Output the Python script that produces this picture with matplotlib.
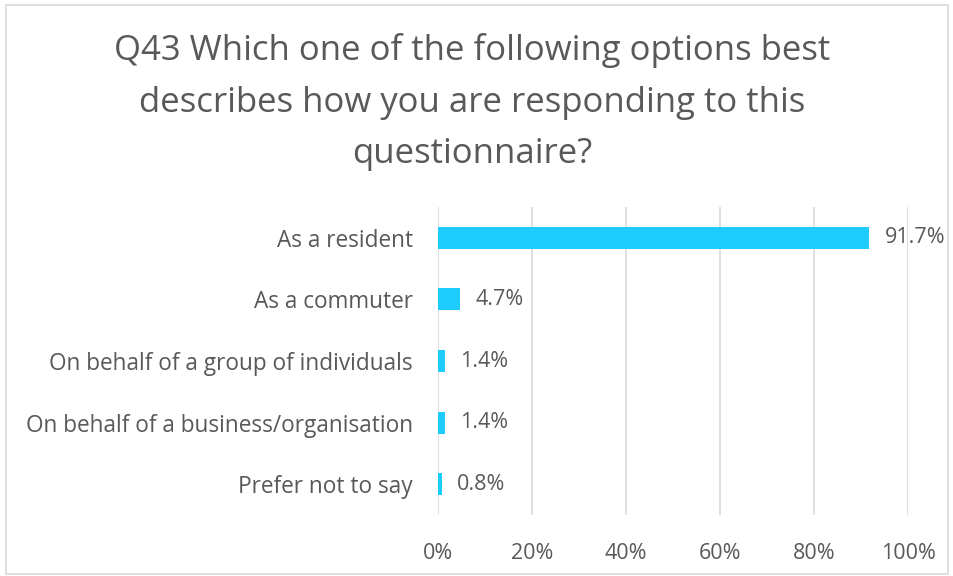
import matplotlib.pyplot as plt
import matplotlib.patches as patches
from matplotlib.ticker import FuncFormatter

# ── Data ────────────────────────────────────────────────
categories = [
    "As a resident",
    "As a commuter",
    "On behalf of a group of individuals",
    "On behalf of a business/organisation",
    "Prefer not to say",
]
shares = [91.7, 4.7, 1.4, 1.4, 0.8]
x_ticks = [0, 20, 40, 60, 80, 100]

TITLE = ("Q43 Which one of the following options best\n"
         "describes how you are responding to this\n"
         "questionnaire?")

# ── Colors ──────────────────────────────────────────────
COLOR_BAR   = '#1ECBFF'
COLOR_TEXT  = '#595959'
COLOR_GRID  = '#d9d9d9'
COLOR_FRAME = '#d9d9d9'

plt.rcParams['font.family'] = ['Open Sans', 'DejaVu Sans']

fig = plt.figure(figsize=(9.54, 5.76), dpi=100)
ax = fig.add_axes([0.4591, 0.1059, 0.4927, 0.5347])

# outer chart frame
fig.patches.append(patches.Rectangle(
    (0.006, 0.004), 0.988, 0.988, transform=fig.transFigure,
    fill=False, edgecolor=COLOR_FRAME, linewidth=1.2))

y = list(range(len(categories)))
ax.barh(y, shares, height=0.36, color=COLOR_BAR, zorder=3)

for yi, v in zip(y, shares):
    ax.text(v + 3.3, yi, f"{v:.1f}%", va='center', ha='left',
            fontsize=15.5, color=COLOR_TEXT, zorder=4)

ax.set_xlim(0, 100)
ax.set_ylim(len(categories) - 0.5, -0.5)
ax.set_xticks(x_ticks)
ax.xaxis.set_major_formatter(FuncFormatter(lambda v, _: f"{v:.0f}%"))
ax.set_yticks(y)
ax.set_yticklabels(categories)
ax.tick_params(axis='both', length=0, labelsize=15.5, labelcolor=COLOR_TEXT)
ax.tick_params(axis='y', labelsize=16.3, pad=18)
ax.tick_params(axis='x', pad=20)
ax.grid(axis='x', color=COLOR_GRID, linewidth=1.2, zorder=0)
for s in ax.spines.values():
    s.set_visible(False)

fig.text(0.4948, 0.8229, TITLE, ha='center', va='center', fontsize=25,
         color=COLOR_TEXT, linespacing=1.66)

fig.savefig('out.png', dpi=100)
